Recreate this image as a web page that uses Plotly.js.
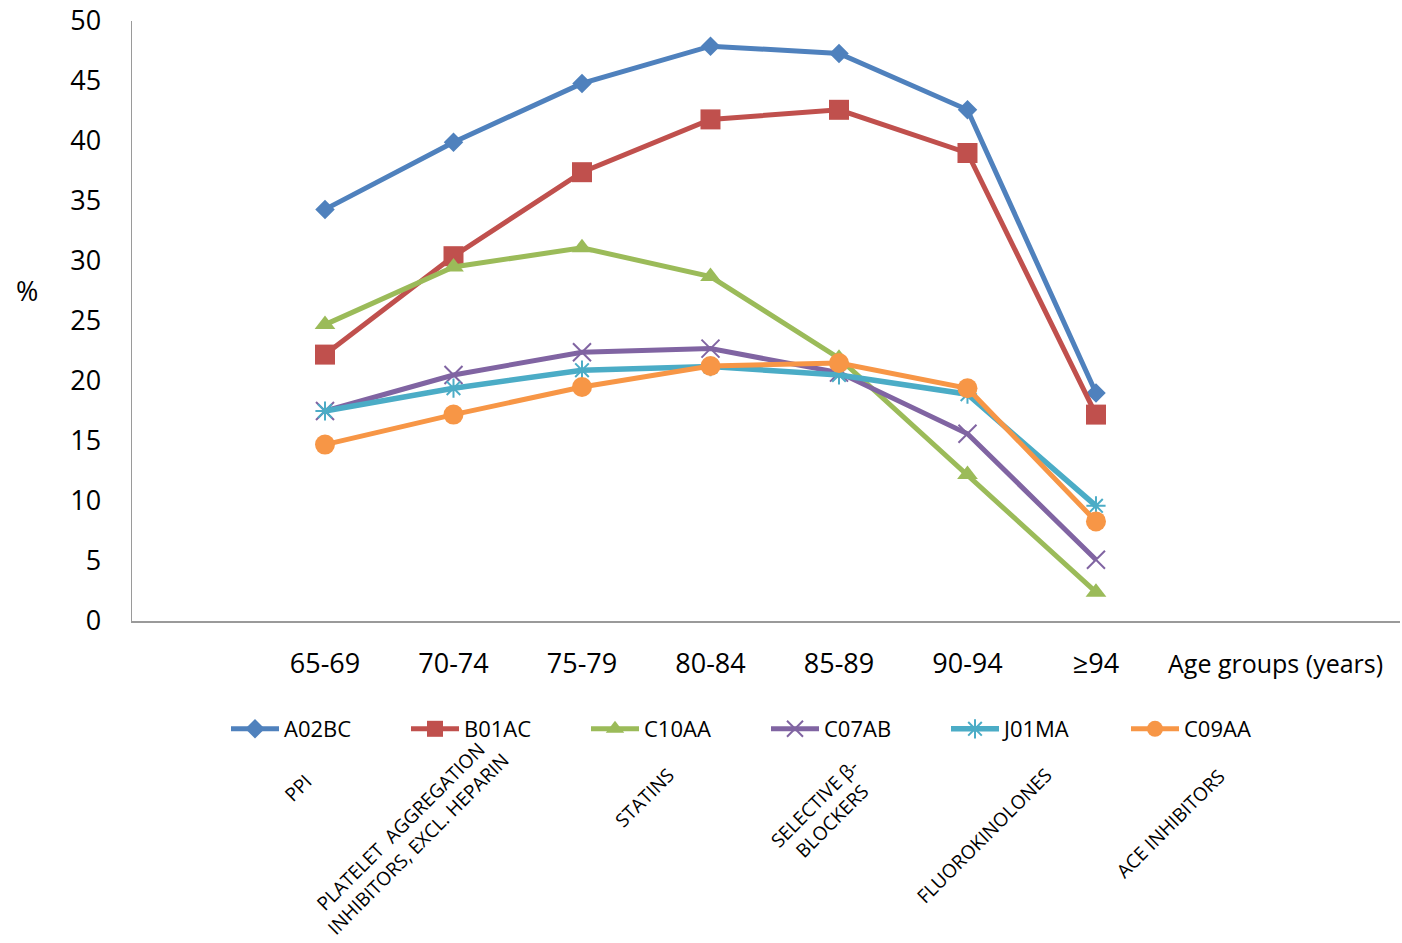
<!DOCTYPE html>
<html>
<head>
<meta charset="utf-8">
<script src="https://cdn.plot.ly/plotly-3.0.1.min.js"></script>
<style>html,body{margin:0;padding:0;background:#fff;}#chart{width:1402px;height:943px;}</style>
</head>
<body>
<div id="chart"></div>
<script>
const ageGroups = ['65-69','70-74','75-79','80-84','85-89','90-94','≥94'];
const seriesNames = ['A02BC','B01AC','C10AA','C07AB','J01MA','C09AA'];
const drugClasses = ['PPI','PLATELET\u00a0 AGGREGATION<br>INHIBITORS, EXCL. HEPARIN','STATINS','SELECTIVE β-<br>BLOCKERS','FLUOROKINOLONES','ACE INHIBITORS'];
const A02BC = [34.3, 39.9, 44.8, 47.9, 47.3, 42.6, 19.0];
const B01AC = [22.2, 30.4, 37.4, 41.8, 42.6, 39.0, 17.2];
const C10AA = [24.7, 29.5, 31.1, 28.7, 21.9, 12.2, 2.4];
const C07AB = [17.5, 20.5, 22.4, 22.7, 20.7, 15.6, 5.1];
const J01MA = [17.5, 19.4, 20.9, 21.2, 20.5, 18.9, 9.6];
const C09AA = [14.7, 17.2, 19.5, 21.25, 21.5, 19.4, 8.3];
const xAxisLabel = 'Age groups (years)';
const yAxisLabel = '%';

const W = 1402, H = 943;
const L = 132, R = 2, T = 21, B = 322;
const PW = W - L - R, PH = H - T - B;
const FONT = 'Open Sans, sans-serif';

const styles = [
  {color:'#4F81BD', symbol:'diamond', size:15, width:5},
  {color:'#C0504D', symbol:'square', size:20, width:5},
  {color:'#9BBB59', symbol:'triangle-up', size:18, width:5},
  {color:'#8064A2', symbol:'x-thin', size:18, width:5, open:true},
  {color:'#4BACC6', symbol:'asterisk', size:16, width:5.5, open:true},
  {color:'#F79646', symbol:'circle', size:20, width:5}
];
const values = [A02BC, B01AC, C10AA, C07AB, J01MA, C09AA];

const traces = values.map((v, i) => {
  const s = styles[i];
  return {
    x: ageGroups, y: v, name: seriesNames[i], type:'scatter', mode:'lines+markers',
    line:{color:s.color, width:s.width},
    marker:{symbol:s.symbol, size:s.size, color:s.color,
      line: s.open ? {color:s.color, width:2} : {width:0}},
    hoverinfo:'skip'
  };
});

function px2x(px){ return (px - L) / PW; }
function py2y(py){ return (T + PH - py) / PH; }

const annPos = [[298,788],[409,835],[644,798],[823,812],[984,836],[1170,824]];
const annotations = drugClasses.map((t, i) => ({
  text: t, xref:'paper', yref:'paper', x: px2x(annPos[i][0]), y: py2y(annPos[i][1]),
  xanchor:'center', yanchor:'middle', showarrow:false, textangle:-45,
  font:{family:FONT, size:19, color:'#000'}
}));
annotations.push({text: xAxisLabel, xref:'paper', yref:'paper', x: px2x(1275), y: py2y(663),
  xanchor:'center', yanchor:'middle', showarrow:false, font:{family:FONT, size:25, color:'#000'}});
annotations.push({text: yAxisLabel, xref:'paper', yref:'paper', x: px2x(27), y: py2y(290),
  xanchor:'center', yanchor:'middle', showarrow:false, font:{family:FONT, size:27, color:'#000'}});

const layout = {
  width: W, height: H,
  margin:{l:L, r:R, t:T, b:B},
  paper_bgcolor:'#fff', plot_bgcolor:'#fff',
  font:{family:FONT, color:'#000'},
  showlegend:true,
  hovermode:false,
  xaxis:{type:'category', range:[-1.502, 8.366], showgrid:false, zeroline:false,
    showline:true, linecolor:'#9a9a9a', linewidth:1.5, ticks:'', ticklabelstandoff:18,
    tickfont:{family:FONT, size:27, color:'#000'}, fixedrange:true},
  yaxis:{range:[0,50], dtick:5, tick0:0, showgrid:false, zeroline:false,
    showline:true, linecolor:'#9a9a9a', linewidth:1.5, ticks:'', ticklabelstandoff:24,
    tickfont:{family:FONT, size:27, color:'#000'}, fixedrange:true},
  legend:{orientation:'h', xref:'container', yref:'container', x: 226/W, y: 1 - 708/H,
    xanchor:'left', yanchor:'top', font:{family:FONT, size:22, color:'#000'},
    itemwidth:48, entrywidth:117, entrywidthmode:'pixels', bgcolor:'rgba(0,0,0,0)'},
  annotations: annotations
};

Plotly.newPlot('chart', traces, layout, {staticPlot:true, displayModeBar:false});
</script>
</body>
</html>
